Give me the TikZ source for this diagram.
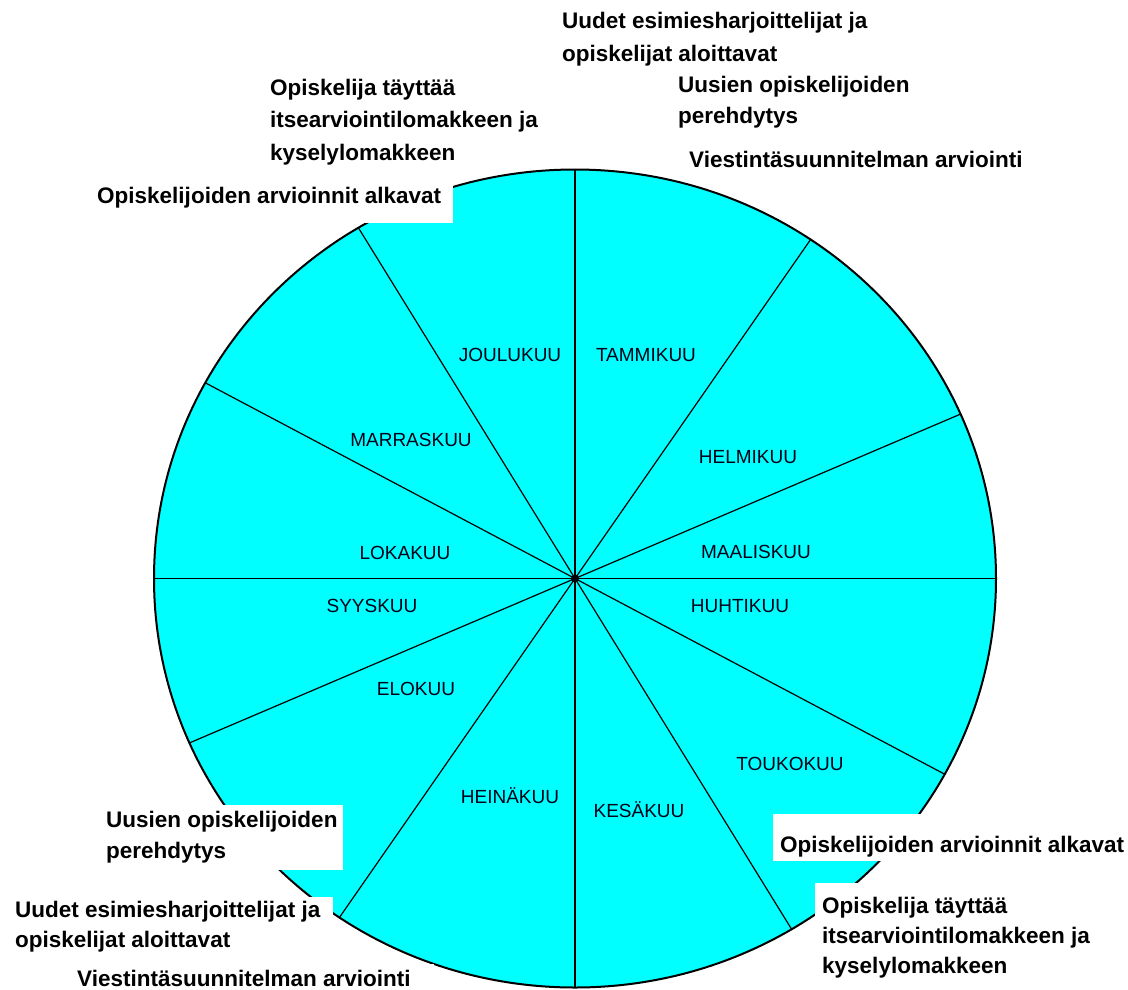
\documentclass[tikz,border=0pt]{standalone}
\usepackage{fontspec}
\setmainfont{Liberation Sans}
\newcommand\notefont{\fontsize{22.5}{31.5}\selectfont\bfseries}
\newcommand\monthfont{\fontsize{19}{21}\selectfont}
% #1 line width in pt, #2 baseline skip in pt, #3 lines separated by \\
\newcommand\notetext[3]{\vtop{\hsize=#1pt\baselineskip=#2pt\raggedright\noindent#3\par}}
\definecolor{wheelcyan}{HTML}{00FFFF}
\begin{document}
\begin{tikzpicture}[x=1pt,y=-1pt,
  wheel/.style={fill=wheelcyan,draw=black,line width=2pt},
  spoke/.style={draw=black,line width=1.2pt},
  month/.style={font=\monthfont,text=black!90!blue,inner sep=0pt},
  note/.style={font=\notefont,fill=white,inner ysep=0pt,anchor=base west}]
\useasboundingbox (0,0) rectangle (1128,989);
\fill[white] (0,0) rectangle (1128,989);

% year wheel
\coordinate (c) at (575,578.5);
\draw[wheel] (c) ellipse [x radius=421, y radius=409];

% rim points of the six diameters
\coordinate (top) at (575,169.5);
\coordinate (bot) at (575,987.5);
\coordinate (lft) at (154,578.5);
\coordinate (rgt) at (996,578.5);
\coordinate (a1) at (810.6,239.5);
\coordinate (b1) at (339.4,917.5);
\coordinate (a2) at (960.5,414.1);
\coordinate (b2) at (189.5,742.9);
\coordinate (a3) at (944.7,774.2);
\coordinate (b3) at (205.3,382.8);
\coordinate (a4) at (791.6,929.2);
\coordinate (b4) at (358.4,227.8);
\foreach \e in {top,bot,lft,rgt,a1,b1,a2,b2,a3,b3,a4,b4}
  \draw[spoke] (c) -- (\e);
\fill (c) circle [radius=4];

% months
\node[month] (m01) at (646,355) {TAMMIKUU};
\node[month] (m02) at (748,457) {HELMIKUU};
\node[month] (m03) at (756,552) {MAALISKUU};
\node[month] (m04) at (740,606) {HUHTIKUU};
\node[month] (m05) at (790,764) {TOUKOKUU};
\node[month] (m06) at (639,810) {KESÄKUU};
\node[month] (m07) at (510,796) {HEINÄKUU};
\node[month] (m08) at (416,689) {ELOKUU};
\node[month] (m09) at (372,606) {SYYSKUU};
\node[month] (m10) at (405,553) {LOKAKUU};
\node[month] (m11) at (411,440) {MARRASKUU};
\node[month] (m12) at (510,355) {JOULUKUU};

% events, upper part
\node[note,inner xsep=10pt,text height=24pt,text depth=45pt] (n1) at (552,28.5)
  {\notetext{310}{33}{Uudet esimiesharjoittelijat ja\\opiskelijat aloittavat}};
\node[note,inner xsep=10pt,text height=18pt,text depth=43.5pt] (n2) at (668,92)
  {\notetext{270}{31.5}{Uusien opiskelijoiden\\perehdytys}};
\node[note,inner xsep=9pt,text height=22pt,text depth=8pt] (n3) at (680,167)
  {\notetext{345}{31.5}{Viestintäsuunnitelman arviointi}};
\node[note,inner xsep=8pt,text height=20pt,text depth=72pt] (n4) at (262,95)
  {\notetext{290}{32.5}{Opiskelija täyttää\\itsearviointilomakkeen ja\\kyselylomakkeen}};
\node[note,inner xsep=8pt,text height=22pt,text depth=20pt] (n5) at (89,203)
  {\notetext{348}{31.5}{Opiskelijoiden arvioinnit alkavat}};

% events, lower part
\node[note,inner xsep=3pt,text height=22pt,text depth=43pt] (n6) at (103,827)
  {\notetext{234}{31}{Uusien opiskelijoiden\\perehdytys}};
\node[note,inner xsep=10pt,text height=20pt,text depth=43pt] (n7) at (5,917)
  {\notetext{308}{30}{Uudet esimiesharjoittelijat ja\\opiskelijat aloittavat}};
\node[note,inner xsep=7pt,text height=22pt,text depth=3pt] (n8) at (70,986)
  {\notetext{350}{31.5}{Viestintäsuunnitelman arviointi}};
\node[note,inner xsep=7pt,text height=38pt,text depth=9pt] (n9) at (773,852)
  {\notetext{348}{31.5}{Opiskelijoiden arvioinnit alkavat}};
\node[note,inner xsep=7pt,text height=30pt,text depth=72pt] (n10) at (815,913)
  {\notetext{290}{30}{Opiskelija täyttää\\itsearviointilomakkeen ja\\kyselylomakkeen}};
\end{tikzpicture}
\end{document}
